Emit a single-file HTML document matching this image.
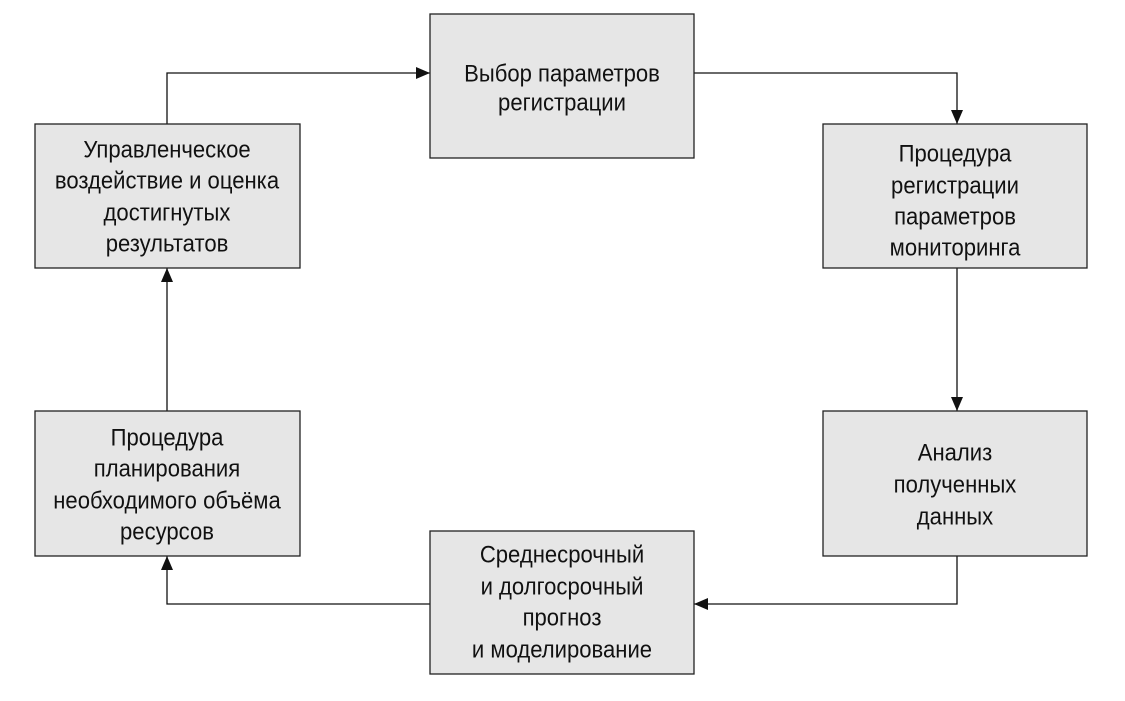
<!DOCTYPE html>
<html><head><meta charset="utf-8"><style>
html,body{margin:0;padding:0;background:#fff;}
svg{display:block}
text{font-family:"Liberation Sans",sans-serif;font-size:24px;fill:#111;text-anchor:middle;dominant-baseline:central}
rect{fill:#e6e6e6;stroke:#222;stroke-width:1.3}
.l{fill:none;stroke:#111;stroke-width:1.3}
</style></head><body>
<svg width="1125" height="701" viewBox="0 0 1125 701">
<defs><marker id="a" markerWidth="14" markerHeight="12" refX="14" refY="6" orient="auto" markerUnits="userSpaceOnUse"><path d="M0,0 L14,6 L0,12 Z" fill="#111"/></marker></defs>
<path class="l" d="M694,73 H957 V124" marker-end="url(#a)"/>
<path class="l" d="M957,268 V411" marker-end="url(#a)"/>
<path class="l" d="M957,556 V604 H694" marker-end="url(#a)"/>
<path class="l" d="M430,604 H167 V556" marker-end="url(#a)"/>
<path class="l" d="M167,411 V268" marker-end="url(#a)"/>
<path class="l" d="M167,124 V73 H430" marker-end="url(#a)"/>
<rect x="430" y="14" width="264" height="144"/>
<rect x="823" y="124" width="264" height="144"/>
<rect x="823" y="411" width="264" height="145"/>
<rect x="430" y="531" width="264" height="143"/>
<rect x="35" y="411" width="265" height="145"/>
<rect x="35" y="124" width="265" height="144"/>
<g transform="translate(562,0) scale(0.92,1)">
<text x="0" y="73">Выбор параметров</text>
<text x="0" y="102">регистрации</text>
<text x="0" y="554">Среднесрочный</text>
<text x="0" y="586">и долгосрочный</text>
<text x="0" y="617">прогноз</text>
<text x="0" y="649">и моделирование</text>
</g>
<g transform="translate(955,0) scale(0.92,1)">
<text x="0" y="153">Процедура</text>
<text x="0" y="185">регистрации</text>
<text x="0" y="216">параметров</text>
<text x="0" y="247">мониторинга</text>
<text x="0" y="452">Анализ</text>
<text x="0" y="484">полученных</text>
<text x="0" y="516">данных</text>
</g>
<g transform="translate(167,0) scale(0.92,1)">
<text x="0" y="437">Процедура</text>
<text x="0" y="468">планирования</text>
<text x="0" y="500">необходимого объёма</text>
<text x="0" y="531">ресурсов</text>
<text x="0" y="149">Управленческое</text>
<text x="0" y="180">воздействие и оценка</text>
<text x="0" y="212">достигнутых</text>
<text x="0" y="243">результатов</text>
</g>
</svg>
</body></html>
